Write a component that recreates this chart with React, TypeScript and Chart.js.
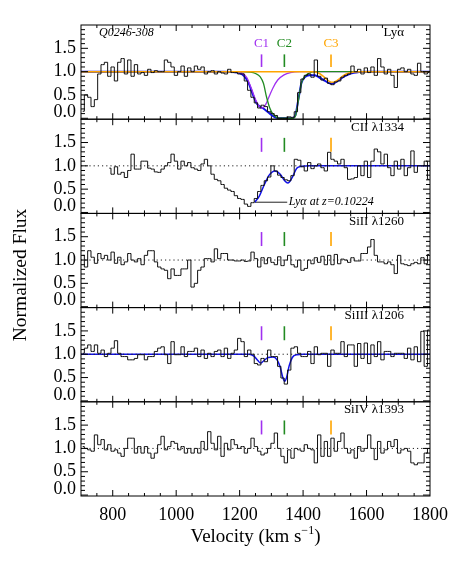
import React, { useEffect, useRef } from "react";
import { Chart, registerables } from "chart.js";

Chart.register(...registerables);

// ---------- axes ----------
const VEL_MIN = 700;
const VEL_MAX = 1800;
const X_TICKS = [800, 1000, 1200, 1400, 1600, 1800];
const X_MINOR_STEP = 50;
const Y_MIN = -0.02;
const Y_MAX = 2.0;
const Y_TICKS = [0, 0.5, 1.0, 1.5];
const Y_TICK_LABELS = ["0.0", "0.5", "1.0", "1.5"];
const Y_MINOR_STEP = 0.1;

// ---------- panels ----------
const PANEL_LABELS = ["Lyα", "CII λ1334", "SiII λ1260", "SiIII λ1206", "SiIV λ1393"];
const SIGHTLINE = "Q0246-308";
const NOTE_TEXT = "Lyα at z=0.10224";

// spectra: bins of BIN_WIDTH km/s starting at BIN_START
const BIN_START = 700;
const BIN_WIDTH = 10.5;

const FLUX_LYA = [
  0.15, 0.5, 0.45, 0.25, 0.4, 0.95, 1.15, 1.2, 0.9, 1.1,
  0.8, 1.2, 1.28, 0.95, 1.25, 0.9, 1.15, 0.95, 0.98, 0.92,
  1.05, 0.98, 1.02, 1.0, 1.0, 1.25, 1.2, 1.1, 0.92, 1.0,
  1.12, 0.9, 1.08, 1.0, 1.12, 1.05, 1.1, 0.95, 1.0, 1.02,
  0.95, 1.0, 0.97, 0.95, 1.05, 0.98, 0.98, 0.95, 0.95, 0.8,
  0.6, 0.45, 0.33, 0.22, 0.28, 0.25, 0.14, 0.1, 0.06, 0.0,
  0.0, 0.0, 0.03, 0.02, 0.14, 0.55, 0.84, 0.92, 0.95, 0.88,
  1.25, 0.9, 0.82, 0.86, 0.75, 0.72, 0.78, 0.8, 0.88, 0.92,
  0.95, 1.12, 1.0, 1.05, 0.95, 1.08, 0.98, 1.1, 0.92, 1.28,
  1.1, 0.95, 1.05, 0.92, 0.66, 1.05, 1.08, 1.0, 1.05, 0.95,
  0.92, 1.18, 1.0, 0.95, 0.98,
];

const FLUX_CII = [
  null, null, null, null, null, null, null, null, 0.95, 0.82,
  0.98, 0.82, 0.86, 0.75, 0.9, 1.25, 0.93, 0.93, 1.1, 1.1,
  0.95, 0.93, 0.87, 0.86, 0.93, 1.0, 1.07, 1.25, 1.1, 0.93,
  1.1, 1.0, 1.07, 0.96, 0.93, 0.9, 1.04, 1.14, 1.0, 0.82,
  0.71, 0.68, 0.6, 0.52, 0.48, 0.45, 0.36, 0.3, 0.28, 0.18,
  0.13, 0.21, 0.3, 0.45, 0.58, 0.68, 0.76, 1.0, 0.89, 0.8,
  0.75, 0.7, 0.68, 0.79, 1.14, 1.12, 0.98, 0.89, 1.07, 0.94,
  1.0, 1.04, 0.96, 0.89, 1.29, 1.14, 1.1, 1.04, 1.14, 0.96,
  0.71, 0.72, 0.75, 1.0, 0.79, 1.1, 0.75, 1.1, 1.36, 1.3,
  1.04, 1.25, 0.96, 0.79, 1.1, 0.93, 1.14, 0.79, 0.96, 1.32,
  0.86, 1.0, 1.0, 1.1, 0.71,
];

const FLUX_SIII = [
  1.1, 0.85, 1.2, 1.06, 0.93, 1.14, 1.03, 1.1, 1.0, 1.17,
  0.93, 1.06, 0.9, 0.96, 1.14, 1.0, 0.96, 1.03, 0.9, 1.1,
  1.2, 1.2, 0.96, 0.85, 0.81, 0.78, 0.6, 0.81, 0.67, 0.67,
  0.81, 0.81, 1.0, 0.42, 0.5, 0.78, 0.85, 1.03, 1.03, 0.96,
  1.24, 1.03, 1.14, 1.14, 1.0, 1.0, 0.98, 0.98, 1.0, 0.97,
  0.98, 1.17, 1.03, 0.85, 1.05, 0.92, 1.05, 0.95, 0.9, 1.07,
  0.88, 1.0, 1.1, 0.9, 0.85, 1.0, 0.78, 0.82, 1.0, 0.92,
  1.05, 0.95, 1.08, 0.9, 1.1, 0.9, 1.12, 0.92, 1.02, 1.0,
  0.95, 1.05, 0.98, 0.98, 1.14, 1.14, 1.28, 1.44, 1.1, 0.96,
  0.96, 0.92, 0.96, 0.9, 0.71, 1.1, 0.92, 0.9, 0.88, 0.92,
  0.95, 0.92, 1.05, 0.92, 1.12,
];

const FLUX_SIIII = [
  1.02, 1.13, 1.2, 1.06, 1.2, 1.02, 1.09, 0.95, 1.02, 1.13,
  1.29, 1.02, 0.95, 0.95, 0.88, 0.88, 0.91, 0.99, 0.99, 0.88,
  0.95, 0.95, 1.06, 1.13, 1.16, 0.99, 0.8, 1.27, 0.99, 0.99,
  1.16, 0.95, 1.06, 1.06, 1.13, 0.95, 1.09, 0.91, 1.02, 0.95,
  1.06, 1.09, 0.95, 1.13, 0.91, 1.02, 1.09, 1.34, 1.27, 0.95,
  1.09, 1.0, 0.8, 0.77, 0.91, 0.84, 1.09, 0.95, 0.95, 0.74,
  0.49, 0.36, 0.66, 1.13, 1.16, 1.02, 0.95, 0.95, 1.06, 0.8,
  1.16, 0.99, 1.02, 1.02, 0.74, 1.09, 1.02, 1.02, 1.27, 0.95,
  1.2, 1.2, 0.74, 1.23, 0.91, 1.24, 0.8, 1.2, 0.95, 1.27,
  0.88, 1.06, 1.06, 0.95, 1.02, 1.02, 1.02, 0.91, 1.13, 0.88,
  1.16, 0.84, 1.49, 0.74, 1.52,
];

const FLUX_SIIV = [
  1.04, 1.0, 0.97, 0.94, 1.29, 1.08, 1.19, 0.97, 1.08, 0.94,
  0.97, 0.9, 0.83, 1.0, 1.22, 1.22, 0.9, 1.04, 0.9, 1.04,
  0.9, 0.79, 0.9, 1.08, 1.26, 0.97, 1.04, 1.15, 1.11, 0.97,
  1.04, 0.9, 1.0, 0.9, 1.0, 0.9, 1.15, 0.97, 1.36, 1.11,
  0.97, 1.26, 0.83, 1.11, 0.97, 1.19, 1.08, 1.0, 1.04, 0.9,
  1.0, 1.22, 1.04, 0.94, 0.86, 0.9, 1.0, 1.11, 1.33, 1.0,
  0.83, 0.69, 0.97, 0.79, 1.0, 0.97, 0.94, 1.08, 1.0, 0.97,
  0.69, 1.29, 0.83, 1.15, 0.83, 1.22, 0.94, 1.15, 1.33, 1.0,
  0.9, 0.97, 0.79, 1.04, 0.94, 1.0, 1.29, 1.0, 0.76, 1.15,
  0.9, 0.97, 1.15, 1.04, 1.19, 0.9, 0.97, 1.0, 0.94, 0.69,
  0.65, 0.69, 0.69, 0.9, 1.0,
];

// ---------- model fits (sampled from the figure) ----------
const LYA_TOTAL_V = [700, 1150, 1180, 1200, 1215, 1228, 1240, 1252, 1263, 1275, 1288, 1300, 1312, 1325, 1365, 1375, 1385, 1395, 1405, 1420, 1435, 1450, 1465, 1480, 1490, 1500, 1515, 1530, 1550, 1575, 1600, 1800];
const LYA_TOTAL_F = [1, 1, 0.99, 0.97, 0.9, 0.76, 0.54, 0.34, 0.25, 0.21, 0.14, 0.07, 0.02, 0.0, 0.0, 0.05, 0.4, 0.76, 0.88, 0.92, 0.92, 0.88, 0.82, 0.76, 0.74, 0.76, 0.83, 0.9, 0.96, 0.99, 1.0, 1.0];
const LYA_C1_V = [700, 1180, 1205, 1222, 1238, 1250, 1262, 1270, 1280, 1292, 1305, 1320, 1340, 1360, 1390, 1800];
const LYA_C1_F = [1, 1, 0.98, 0.88, 0.62, 0.4, 0.25, 0.22, 0.27, 0.45, 0.65, 0.82, 0.93, 0.98, 1.0, 1.0];
const LYA_C2_V = [700, 1200, 1230, 1250, 1265, 1275, 1285, 1295, 1305, 1315, 1325, 1368, 1376, 1385, 1395, 1405, 1420, 1440, 1800];
const LYA_C2_F = [1, 1, 0.99, 0.96, 0.89, 0.75, 0.45, 0.22, 0.09, 0.03, 0.0, 0.0, 0.05, 0.38, 0.76, 0.9, 0.97, 1.0, 1.0];
const LYA_C3_V = [700, 1430, 1445, 1460, 1472, 1483, 1492, 1502, 1515, 1528, 1545, 1570, 1800];
const LYA_C3_F = [1, 1, 0.98, 0.92, 0.85, 0.79, 0.77, 0.79, 0.85, 0.92, 0.97, 1.0, 1.0];
const CII_FIT_V = [1248, 1262, 1278, 1293, 1311, 1328, 1342, 1352, 1365, 1380, 1395, 1420, 1800];
const CII_FIT_F = [0.22, 0.35, 0.6, 0.8, 0.89, 0.82, 0.68, 0.63, 0.74, 0.95, 0.99, 1.0, 1.0];
const SIIII_FIT_V = [700, 1230, 1245, 1258, 1266, 1276, 1290, 1305, 1318, 1328, 1336, 1342, 1348, 1356, 1366, 1380, 1400, 1800];
const SIIII_FIT_F = [1, 1, 0.96, 0.86, 0.81, 0.86, 0.93, 0.94, 0.88, 0.72, 0.5, 0.42, 0.5, 0.75, 0.93, 0.99, 1, 1];
const NOTE_LINE_V = [1248, 1350];
const NOTE_LINE_F = [0.22, 0.22];
const CONTINUUM_V = [700, 1800];
const CONTINUUM_F = [1, 1];

// ---------- component markers ----------
const COMPONENT_NAMES = ["C1", "C2", "C3"];
const COMPONENT_VEL = [1269, 1341, 1488];
const COMPONENT_COLORS = ["#a030f0", "#228b22", "#ffa500"];
const MARK_BOTTOM = [1.1, 1.3, 1.3, 1.3, 1.3];
const MARK_TOP = [1.37, 1.6, 1.6, 1.6, 1.6];
const FIT_BLUE = "#1010e8";

const FONT = "'Liberation Serif', 'Times New Roman', serif";
const N_PANELS = 5;
const SPAN = Y_MAX - Y_MIN;

const pts = (vs: number[], fs: (number | null)[]) => vs.map((v, i) => ({ x: v, y: fs[i] }));
const binPts = (fs: (number | null)[]) =>
  fs.map((f, i) => ({ x: BIN_START + BIN_WIDTH * (i + 0.5), y: f }));

function histogram(fs: (number | null)[], k: number) {
  return {
    data: binPts(fs),
    yAxisID: "y" + k,
    stepped: "middle",
    borderColor: "#111",
    borderWidth: 1,
    pointRadius: 0,
    spanGaps: false,
    fill: false,
  };
}

function curve(vs: number[], fs: number[], k: number, color: string, width: number, smooth = true, dash: number[] = []) {
  return {
    data: pts(vs, fs),
    yAxisID: "y" + k,
    borderColor: color,
    borderWidth: width,
    pointRadius: 0,
    fill: false,
    cubicInterpolationMode: smooth ? "monotone" : "default",
    tension: 0,
    borderDash: dash,
  };
}

const decorPlugin = {
  id: "decor",
  afterDatasetsDraw(chart: any) {
    const ctx = chart.ctx as CanvasRenderingContext2D;
    const area = chart.chartArea;
    const xs = chart.scales.x;
    ctx.save();
    const line = (x1: number, y1: number, x2: number, y2: number) => {
      ctx.beginPath();
      ctx.moveTo(x1, y1);
      ctx.lineTo(x2, y2);
      ctx.stroke();
    };
    for (let k = 0; k < N_PANELS; k++) {
      const ys = chart.scales["y" + k];
      const top = ys.getPixelForValue(Y_MAX);
      const bot = ys.getPixelForValue(Y_MIN);
      ctx.strokeStyle = "#000";
      ctx.lineWidth = 1;
      ctx.strokeRect(area.left, top, area.right - area.left, bot - top);
      // y ticks (inward, both sides)
      for (let t = 0; Y_MINOR_STEP * t < Y_MAX - 1e-6; t++) {
        const v = Math.round(Y_MINOR_STEP * t * 10) / 10;
        const major = Y_TICKS.some((m) => Math.abs(m - v) < 1e-6);
        const len = major ? 7 : 4;
        const py = ys.getPixelForValue(v);
        line(area.left, py, area.left + len, py);
        line(area.right, py, area.right - len, py);
      }
      // x ticks (inward, top and bottom)
      for (let v = VEL_MIN + X_MINOR_STEP; v < VEL_MAX; v += X_MINOR_STEP) {
        const major = X_TICKS.includes(v);
        const len = major ? 6 : 3;
        const px = xs.getPixelForValue(v);
        line(px, top, px, top + len);
        line(px, bot, px, bot - len);
      }
      // y tick labels
      ctx.fillStyle = "#000";
      ctx.font = `18px ${FONT}`;
      ctx.textAlign = "right";
      ctx.textBaseline = "middle";
      Y_TICKS.forEach((v, i) => {
        const shift = v === 0 ? -6 : 0;
        ctx.fillText(Y_TICK_LABELS[i], 76, ys.getPixelForValue(v) + shift);
      });
      // panel label
      ctx.font = `13px ${FONT}`;
      ctx.textAlign = "right";
      ctx.fillText(PANEL_LABELS[k], 404, top + 8);
      // component marks
      COMPONENT_VEL.forEach((v, i) => {
        ctx.strokeStyle = COMPONENT_COLORS[i];
        ctx.lineWidth = 1.6;
        const px = xs.getPixelForValue(v);
        line(px, ys.getPixelForValue(MARK_BOTTOM[k]), px, ys.getPixelForValue(MARK_TOP[k]));
      });
      if (k === 0) {
        ctx.font = `13px ${FONT}`;
        ctx.textAlign = "center";
        COMPONENT_VEL.forEach((v, i) => {
          ctx.fillStyle = COMPONENT_COLORS[i];
          ctx.fillText(COMPONENT_NAMES[i], xs.getPixelForValue(v), top + 19);
        });
        ctx.fillStyle = "#000";
        ctx.font = `italic 12px ${FONT}`;
        ctx.textAlign = "left";
        ctx.fillText(SIGHTLINE, 99, top + 8);
      }
      if (k === 1) {
        ctx.fillStyle = "#000";
        ctx.font = `italic 12px ${FONT}`;
        ctx.textAlign = "left";
        const nx = xs.getPixelForValue(NOTE_LINE_V[1]) + 1.5;
        ctx.fillText(NOTE_TEXT, nx, ys.getPixelForValue(NOTE_LINE_F[1]));
      }
    }
    // x tick labels
    ctx.fillStyle = "#000";
    ctx.font = `18px ${FONT}`;
    ctx.textAlign = "center";
    ctx.textBaseline = "middle";
    X_TICKS.forEach((v) => ctx.fillText(String(v), xs.getPixelForValue(v), area.bottom + 19));
    // x title with superscript
    const cx = (area.left + area.right) / 2;
    const main = "Velocity (km s";
    const sup = "−1";
    const close = ")";
    ctx.font = `19px ${FONT}`;
    const w1 = ctx.measureText(main).width;
    const w3 = ctx.measureText(close).width;
    ctx.font = `12px ${FONT}`;
    const w2 = ctx.measureText(sup).width;
    let x0 = cx - (w1 + w2 + w3) / 2;
    ctx.textAlign = "left";
    ctx.textBaseline = "alphabetic";
    ctx.font = `19px ${FONT}`;
    ctx.fillText(main, x0, 542);
    ctx.font = `12px ${FONT}`;
    ctx.fillText(sup, x0 + w1, 534);
    ctx.font = `19px ${FONT}`;
    ctx.fillText(close, x0 + w1 + w2, 542);
    // y title
    ctx.translate(21, 275);
    ctx.rotate(-Math.PI / 2);
    ctx.textAlign = "center";
    ctx.textBaseline = "middle";
    ctx.font = `19.5px ${FONT}`;
    ctx.fillText("Normalized Flux", 0, 0);
    ctx.restore();
  },
};

export default function App() {
  const ref = useRef<HTMLCanvasElement | null>(null);
  useEffect(() => {
    if (!ref.current) return;
    const scales: any = {
      x: { type: "linear", min: VEL_MIN, max: VEL_MAX, display: false },
    };
    for (let k = 0; k < N_PANELS; k++) {
      scales["y" + k] = {
        type: "linear",
        display: false,
        min: Y_MIN - (N_PANELS - 1 - k) * SPAN,
        max: Y_MAX + k * SPAN,
      };
    }
    const datasets: any[] = [];
    // dotted continuum in metal-line panels
    for (let k = 1; k < N_PANELS; k++) {
      datasets.push(curve(CONTINUUM_V, CONTINUUM_F, k, "#222", 1, false, [1.2, 3]));
    }
    [FLUX_LYA, FLUX_CII, FLUX_SIII, FLUX_SIIII, FLUX_SIIV].forEach((f, k) => datasets.push(histogram(f, k)));
    datasets.push(curve(LYA_C3_V, LYA_C3_F, 0, COMPONENT_COLORS[2], 1.5));
    datasets.push(curve(LYA_C2_V, LYA_C2_F, 0, COMPONENT_COLORS[1], 1.3));
    datasets.push(curve(LYA_C1_V, LYA_C1_F, 0, COMPONENT_COLORS[0], 1.3));
    datasets.push(curve(LYA_TOTAL_V, LYA_TOTAL_F, 0, FIT_BLUE, 2));
    datasets.push(curve(CII_FIT_V, CII_FIT_F, 1, FIT_BLUE, 1.5));
    datasets.push(curve(NOTE_LINE_V, NOTE_LINE_F, 1, "#222", 1, false));
    datasets.push(curve(SIIII_FIT_V, SIIII_FIT_F, 3, FIT_BLUE, 1.5));

    const chart = new Chart(ref.current, {
      type: "line",
      data: { datasets },
      options: {
        responsive: false,
        animation: false,
        devicePixelRatio: 1,
        events: [],
        layout: { padding: { left: 81, right: 33, top: 25, bottom: 79 } },
        plugins: { legend: { display: false }, tooltip: { enabled: false } },
        scales,
      } as any,
      plugins: [decorPlugin],
    } as any);
    return () => chart.destroy();
  }, []);
  return (
    <div style={{ position: "absolute", left: 0, top: 0, width: 463, height: 575, background: "#fff" }}>
      <canvas ref={ref} width={463} height={575} style={{ display: "block" }} />
    </div>
  );
}
